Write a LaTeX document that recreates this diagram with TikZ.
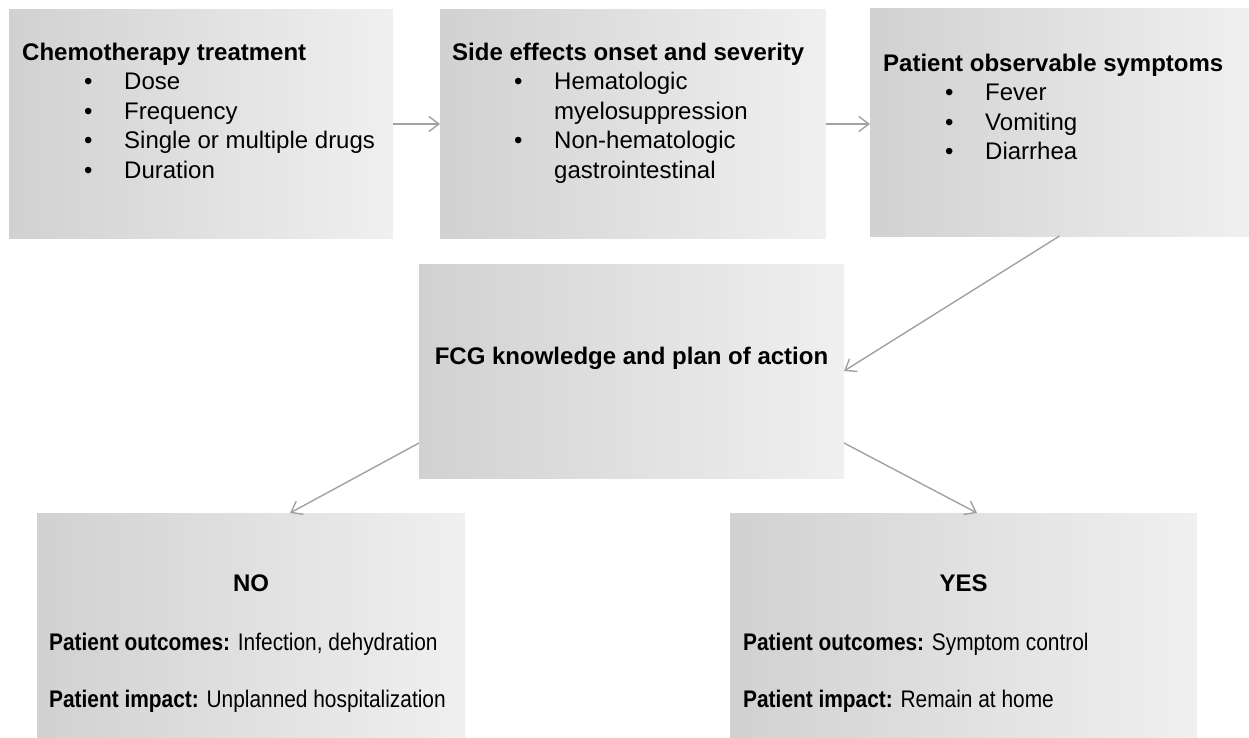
\documentclass[tikz,border=0pt]{standalone}
\usepackage{fontspec}
\setmainfont{Liberation Sans}
\usetikzlibrary{arrows.meta}
\newcommand{\itm}[1]{\hspace*{62pt}\makebox[40pt][l]{\textbullet}#1}
\newcommand{\sqz}[1]{\scalebox{0.87}[1]{#1}}

\begin{document}
\begin{tikzpicture}[x=1pt,y=-1pt,
	box/.style={left color=black!18,right color=black!6,inner sep=0,outer sep=0,anchor=north west},
	txt/.style={align=left,inner sep=0,anchor=base west,font=\fontsize{24}{29.5}\selectfont},
	arr/.style={draw=black!37,line width=1.4pt,-{Straight Barb[length=10pt,width=15pt]}}]
\useasboundingbox (0,0) rectangle (1249,738);
% boxes
\node[box,minimum width=384pt,minimum height=228pt] (chemo) at (9,10) {};
\node[box,minimum width=386pt,minimum height=228pt] (side) at (440,10) {};
\node[box,minimum width=379pt,minimum height=227pt] (symp) at (870,9) {};
\node[box,minimum width=425pt,minimum height=214pt] (fcg) at (419,264) {};
\node[box,minimum width=428pt,minimum height=225pt] (no) at (37,513) {};
\node[box,minimum width=467pt,minimum height=225pt] (yes) at (730,513) {};
% texts (base = last line)
\node[txt] (chemotxt) at ([xshift=13pt,yshift=-168.5pt]chemo.north west)
	{\textbf{Chemotherapy treatment}\\ \itm{Dose}\\ \itm{Frequency}\\
	\itm{Single or multiple drugs}\\ \itm{Duration}};
\node[txt] (sidetxt) at ([xshift=12pt,yshift=-168.5pt]side.north west)
	{\textbf{Side effects onset and severity}\\ \itm{Hematologic}\\
	\hspace*{102pt}myelosuppression\\ \itm{Non-hematologic}\\
	\hspace*{102pt}gastrointestinal};
\node[txt] (symptxt) at ([xshift=13pt,yshift=-151pt]symp.north west)
	{\textbf{Patient observable symptoms}\\ \itm{Fever}\\ \itm{Vomiting}\\ \itm{Diarrhea}};
\node[font=\fontsize{24}{29.5}\selectfont\bfseries] (fcgtxt) at ([yshift=13pt]fcg.center)
	{FCG knowledge and plan of action};
\node[txt,anchor=base,font=\fontsize{24}{29.5}\selectfont\bfseries] (notitle)
	at ([yshift=-78.5pt]no.north) {NO};
\node[txt,font=\fontsize{24}{57}\selectfont] (notxt) at ([xshift=12pt,yshift=-194.5pt]no.north west)
	{\sqz{\textbf{Patient outcomes:} Infection, dehydration}\\
	\sqz{\textbf{Patient impact:} Unplanned hospitalization}};
\node[txt,anchor=base,font=\fontsize{24}{29.5}\selectfont\bfseries] (yestitle)
	at ([yshift=-78.5pt]yes.north) {YES};
\node[txt,font=\fontsize{24}{57}\selectfont] (yestxt) at ([xshift=13pt,yshift=-194.5pt]yes.north west)
	{\sqz{\textbf{Patient outcomes:} Symptom control}\\
	\sqz{\textbf{Patient impact:} Remain at home}};
% arrows
\draw[arr] (chemo) -- (side);
\draw[arr] (side.east) -- (side.east -| symp.west);
\draw[arr] (symp.south) -- (fcg.east);
\draw[arr] ([yshift=-72pt]fcg.west) -- ([xshift=39pt]no.north);
\draw[arr] ([yshift=-72pt]fcg.east) -- ([xshift=13.5pt]yes.north);
\end{tikzpicture}
\end{document}
